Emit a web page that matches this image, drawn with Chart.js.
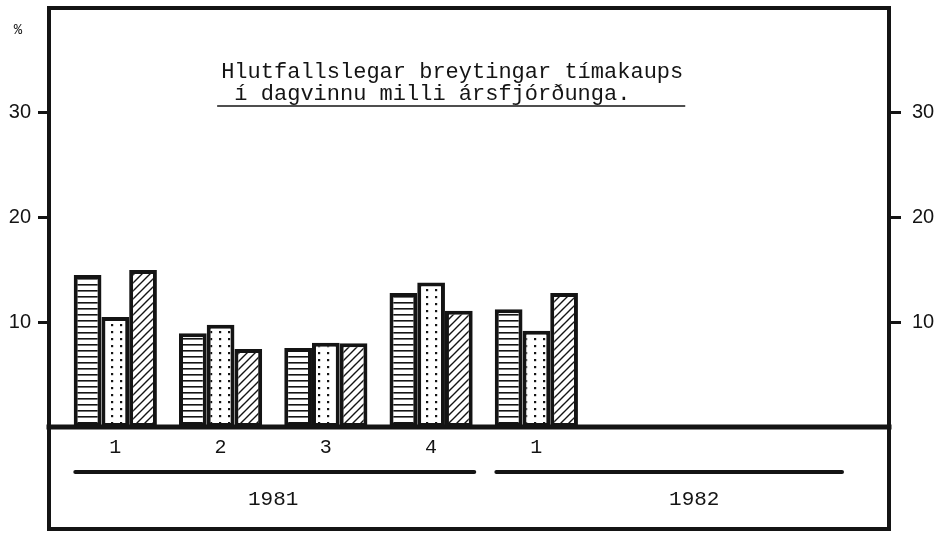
<!DOCTYPE html>
<html>
<head>
<meta charset="utf-8">
<script src="https://cdn.jsdelivr.net/npm/chart.js@4.4.1/dist/chart.umd.min.js"></script>
<style>
  html, body { margin: 0; padding: 0; background: #fff; }
</style>
</head>
<body>
<canvas id="chartKaup" width="946" height="533"></canvas>
<script>
// quarters shown on the axis, grouped per year
const quarters = ["1", "2", "3", "4", "1"];
const years = ["1981", "1982"];
const quartersPerYear = 4;
const yTicks = [10, 20, 30];

// percent change per quarter, three bar series
const seriesLines = [14.5, 8.95, 7.55, 12.8, 11.25];
const seriesDots = [10.5, 9.75, 8.05, 13.8, 9.2];
const seriesHatch = [15.0, 7.45, 8.0, 11.1, 12.8];

const titleLines = ["Hlutfallslegar breytingar tímakaups", " í dagvinnu milli ársfjórðunga."];

const ink = "#141414";
const mono = "'Liberation Mono', 'DejaVu Sans Mono', monospace";
const sans = "'Liberation Sans', Arial, sans-serif";

function makePattern(kind) {
  const c = document.createElement("canvas");
  const g = c.getContext("2d");
  if (kind === "lines") {
    c.width = 8; c.height = 6;
    g.fillStyle = "#fff"; g.fillRect(0, 0, 8, 6);
    g.fillStyle = ink; g.fillRect(0, 2, 8, 1.6);
  } else if (kind === "dots") {
    c.width = 9; c.height = 7;
    g.fillStyle = "#fff"; g.fillRect(0, 0, 9, 7);
    g.fillStyle = ink; g.fillRect(3, 2, 2.2, 2.2);
  } else {
    c.width = 8; c.height = 8;
    g.fillStyle = "#fff"; g.fillRect(0, 0, 8, 8);
    g.strokeStyle = ink; g.lineWidth = 1.4;
    g.beginPath();
    g.moveTo(-1, 9); g.lineTo(9, -1);
    g.moveTo(-1, 1); g.lineTo(1, -1);
    g.moveTo(7, 9); g.lineTo(9, 7);
    g.stroke();
  }
  return g.createPattern(c, "repeat");
}

function toPoints(arr) {
  return arr.map((v, i) => ({ x: i, y: v }));
}

const fixedTicks = (list) => (scale) => {
  scale.ticks = list.map(v => ({ value: v }));
};

const framePlugin = {
  id: "frame",
  afterDraw(chart) {
    const ctx = chart.ctx;
    const a = chart.chartArea;
    const x = chart.scales.x;
    const y = chart.scales.y;
    const base = y.getPixelForValue(0);
    const bottom = chart.height - 4;

    ctx.save();
    ctx.strokeStyle = ink;
    ctx.lineCap = "square";

    // outer frame
    ctx.lineWidth = 4;
    ctx.strokeRect(a.left, a.top, a.right - a.left, bottom - a.top);

    // zero line
    ctx.lineWidth = 5;
    ctx.beginPath();
    ctx.moveTo(a.left, base);
    ctx.lineTo(a.right, base);
    ctx.stroke();

    // year bars + labels (the last one stops short of the frame)
    ctx.lineCap = "round";
    ctx.lineWidth = 4;
    ctx.fillStyle = ink;
    ctx.font = "21px " + mono;
    ctx.textAlign = "center";
    ctx.textBaseline = "middle";
    years.forEach((yr, i) => {
      const first = i * quartersPerYear;
      const last = first + quartersPerYear - 1;
      const x0 = x.getPixelForValue(first - 0.38);
      const x1 = Math.min(x.getPixelForValue(last + 0.41), a.right - 47);
      ctx.beginPath();
      ctx.moveTo(x0, base + 45);
      ctx.lineTo(x1, base + 45);
      ctx.stroke();
      ctx.fillText(yr, x.getPixelForValue((first + last) / 2), base + 72);
    });

    // title, typewritten and underlined
    ctx.font = "22px " + mono;
    ctx.textAlign = "left";
    ctx.textBaseline = "alphabetic";
    const w = ctx.measureText(titleLines[0]).width;
    const cx = a.left + (a.right - a.left) * 0.48;
    const tx = cx - w / 2;
    ctx.fillText(titleLines[0], tx, a.top + 70);
    ctx.fillText(titleLines[1], tx, a.top + 92);
    ctx.lineWidth = 1.5;
    ctx.lineCap = "butt";
    ctx.beginPath();
    ctx.moveTo(tx - 4, a.top + 98);
    ctx.lineTo(tx + w + 2, a.top + 98);
    ctx.stroke();

    // unit sign
    ctx.font = "14px " + mono;
    ctx.textAlign = "center";
    ctx.fillText("%", 18, a.top + 26);
    ctx.restore();
  }
};

const ctx = document.getElementById("chartKaup");

const barStyle = {
  borderColor: ink,
  borderWidth: 4,
  borderSkipped: false,
  barPercentage: 1.0,
  categoryPercentage: 0.79
};

function noPad(scale) {
  scale.paddingTop = 0;
  scale.paddingBottom = 0;
  scale.paddingLeft = 0;
  scale.paddingRight = 0;
}

new Chart(ctx, {
  type: "bar",
  data: {
    datasets: [
      { label: "a", data: toPoints(seriesLines), backgroundColor: makePattern("lines"), ...barStyle },
      { label: "b", data: toPoints(seriesDots), backgroundColor: makePattern("dots"), ...barStyle },
      { label: "c", data: toPoints(seriesHatch), backgroundColor: makePattern("hatch"), ...barStyle }
    ]
  },
  options: {
    responsive: false,
    animation: false,
    layout: { padding: { top: 8, left: 0, right: 0, bottom: 0 } },
    plugins: {
      legend: { display: false },
      tooltip: { enabled: false }
    },
    scales: {
      x: {
        type: "linear",
        offset: false,
        min: -0.63,
        max: 7.35,
        afterBuildTicks: fixedTicks(quarters.map((q, i) => i)),
        afterFit(scale) { scale.height = 106; noPad(scale); },
        grid: { display: false, drawTicks: false, offset: false },
        border: { display: false },
        ticks: {
          padding: 9,
          color: ink,
          font: { family: mono, size: 20 },
          callback: (v) => quarters[v]
        }
      },
      y: {
        position: "left",
        min: 0,
        max: 40,
        afterBuildTicks: fixedTicks(yTicks),
        afterFit(scale) { scale.width = 49; noPad(scale); },
        grid: { drawOnChartArea: false, tickLength: 11, tickWidth: 3, tickColor: ink },
        border: { display: false },
        ticks: {
          padding: 7,
          color: ink,
          font: { family: sans, size: 20 }
        }
      },
      y2: {
        position: "right",
        min: 0,
        max: 40,
        afterBuildTicks: fixedTicks(yTicks),
        afterFit(scale) { scale.width = 57; noPad(scale); },
        grid: { drawOnChartArea: false, tickLength: 12, tickWidth: 3, tickColor: ink },
        border: { display: false },
        ticks: {
          padding: 11,
          color: ink,
          font: { family: sans, size: 20 }
        }
      }
    }
  },
  plugins: [framePlugin]
});
</script>
</body>
</html>
